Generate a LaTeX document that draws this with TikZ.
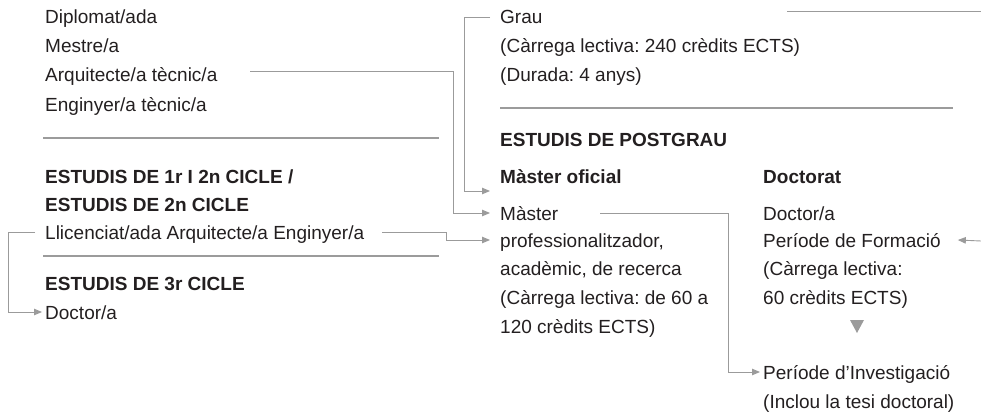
\documentclass[tikz,border=0pt]{standalone}
\usepackage{fontspec}
\setmainfont{Liberation Sans}
\usetikzlibrary{arrows.meta}
\definecolor{txtc}{HTML}{231F20}
\definecolor{lnc}{HTML}{9B9B9B}
\frenchspacing
\begin{document}
\begin{tikzpicture}[x=1pt,y=-1pt,
  tx/.style={anchor=base west,inner sep=0pt,text height=14pt,text depth=0pt,font=\fontsize{19}{23}\selectfont,text=txtc},
  hd/.style={tx,font=\fontsize{19}{23}\selectfont\bfseries},
  rulel/.style={draw=lnc,line width=2.6pt},
  conn/.style={draw=lnc,line width=0.9pt},
  arr/.style={conn,-{Triangle[length=8pt,width=6.5pt]}}]
\useasboundingbox (0,0) rectangle (981,417);
% left column
\node[tx] (dip) at (45,24) {Diplomat/ada};
\node[tx] (mes) at (45,53) {Mestre/a};
\node[tx] (arq) at (45,82) {Arquitecte/a tècnic/a};
\node[tx] (eng) at (45,111) {Enginyer/a tècnic/a};
\draw[rulel] (43,138) -- (439,138);
\node[hd] (h1) at (45,183) {ESTUDIS DE 1r I 2n CICLE /};
\node[hd] (h2) at (45,211) {ESTUDIS DE 2n CICLE};
\node[tx] (llic) at (45,239) {Llicenciat/ada Arquitecte/a Enginyer/a};
\draw[rulel] (43,256) -- (439,256);
\node[hd] (h3) at (45,290) {ESTUDIS DE 3r CICLE};
\node[tx] (doc) at (45,319) {Doctor/a};
% middle column
\node[tx] (grau) at (500,24) {Grau};
\node[tx] (g2) at (500,53) {(Càrrega lectiva: 240 crèdits ECTS)};
\node[tx] (g3) at (500,82) {(Durada: 4 anys)};
\draw[rulel] (500,108) -- (953,108);
\node[hd] (pg) at (500,146) {ESTUDIS DE POSTGRAU};
\node[hd] (mo) at (500,183) {Màster oficial};
\node[tx] (master) at (500,220) {Màster};
\node[tx] (prof) at (500,247) {professionalitzador,};
\node[tx] (acad) at (500,275) {acadèmic, de recerca};
\node[tx] (mc1) at (500,304) {(Càrrega lectiva: de 60 a};
\node[tx] (mc2) at (500,333) {120 crèdits ECTS)};
% right column
\node[hd] (dt) at (763,183) {Doctorat};
\node[tx] (dr) at (763,220) {Doctor/a};
\node[tx] (form) at (763,247) {Període de Formació};
\node[tx] (fc1) at (763,275) {(Càrrega lectiva:};
\node[tx] (fc2) at (763,304) {60 crèdits ECTS)};
\fill[lnc] (850,320) -- (864,320) -- (857,333) -- cycle;
\node[tx] (inv) at (763,379) {Període d’Investigació};
\node[tx] (inc) at (763,408) {(Inclou la tesi doctoral)};
% free ends
\coordinate (topr) at (787,11);
\coordinate (topre) at (981,11);
\coordinate (gend) at (490,191);
\coordinate (rin) at (981,241);
\coordinate (arqs) at (250,71);
% connectors
\draw[conn] (topr) -- (topre);
\draw[arr] ([xshift=-10pt]grau.west) -| ([xshift=-26pt]gend) -- (gend);
\draw[arr] (arqs) -| ([xshift=-47pt]master.west) -- ([xshift=-10pt]master.west);
\draw[arr] ([xshift=18pt]llic.east) -- ([xshift=-54pt]prof.west |- llic.east) -- ([xshift=-54pt]prof.west) -- ([xshift=-10pt]prof.west);
\draw[arr] ([xshift=-10pt]llic.west) -| ([xshift=-37pt]doc.west) -- ([xshift=-3pt]doc.west);
\draw[arr] ([xshift=42pt]master.east) -| ([xshift=-35pt]inv.west) -- ([xshift=-3pt]inv.west);
\draw[arr] (rin) -- ([xshift=17pt]form.east);
\end{tikzpicture}
\end{document}
